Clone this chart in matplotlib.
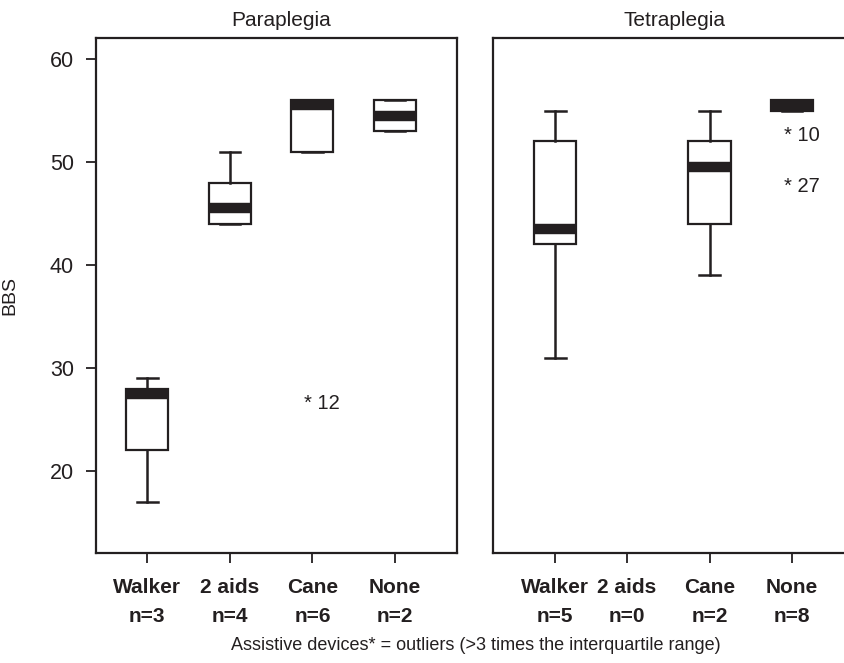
import matplotlib
matplotlib.use("Agg")
import matplotlib.pyplot as plt

# data (BBS scores)
devices = ["Walker", "2 aids", "Cane", "None"]

para_n = [3, 4, 6, 2]
para_med = [27.5, 45.5, 55.5, 54.5]
para_q1 = [22, 44, 51, 53]
para_q3 = [28, 48, 56, 56]
para_lo = [17, 44, 51, 53]
para_hi = [29, 51, 56, 56]
para_out_val = [27]
para_out_id = ["12"]
para_out_dev = ["Cane"]

tetra_n = [5, 0, 2, 8]
tetra_med = [43.5, None, 49.5, 55.5]
tetra_q1 = [42, None, 44, 55]
tetra_q3 = [52, None, 52, 56]
tetra_lo = [31, None, 39, 55]
tetra_hi = [55, None, 55, 56]
tetra_out_val = [53, 48]
tetra_out_id = ["10", "27"]
tetra_out_dev = ["None", "None"]

INK = "#231f20"
plt.rcParams["font.family"] = ["Liberation Sans", "DejaVu Sans"]

fig = plt.figure(figsize=(8.45, 6.63), dpi=100)
ax1 = fig.add_axes([96 / 845, 1 - 552.7 / 663, 361.3 / 845, 515 / 663])
ax2 = fig.add_axes([492.7 / 845, 1 - 552.7 / 663, 352.3 / 845, 515 / 663])


def draw_panel(ax, pos, n, med, q1, q3, lo, hi, out_val, out_id, out_dev, xlim):
    stats, bpos = [], []
    for i in range(len(devices)):
        if med[i] is None:
            continue
        stats.append(dict(med=med[i], q1=q1[i], q3=q3[i],
                          whislo=lo[i], whishi=hi[i], fliers=[]))
        bpos.append(pos[i])
    ax.bxp(stats, positions=bpos, widths=0.51, capwidths=0.25,
           showfliers=False, patch_artist=True,
           boxprops=dict(facecolor="white", edgecolor=INK, linewidth=1.6),
           whiskerprops=dict(color=INK, linewidth=1.8),
           capprops=dict(color=INK, linewidth=1.8),
           medianprops=dict(color=INK, linewidth=7.5, solid_capstyle="butt"))
    # outliers marked with an asterisk and case number
    for v, lab, d in zip(out_val, out_id, out_dev):
        x = pos[devices.index(d)]
        ax.annotate("* " + lab, (x, v), xytext=(-6, -3),
                    textcoords="offset points", ha="left", va="center",
                    fontsize=14.5, color=INK)
    ax.set_xticks(pos)
    ax.set_xticklabels([f"{d}\nn={k}" for d, k in zip(devices, n)],
                       fontweight="bold", fontsize=15, linespacing=1.66,
                       color=INK)
    ax.set_xlim(*xlim)
    ax.set_ylim(12.07, 62.07)
    ax.tick_params(axis="x", length=7.5, width=1.3, pad=10.5, color=INK)
    for s in ax.spines.values():
        s.set_linewidth(1.6)
        s.set_color(INK)


draw_panel(ax1, [1, 2, 3, 4], para_n, para_med, para_q1, para_q3, para_lo,
           para_hi, para_out_val, para_out_id, para_out_dev, (0.379, 4.755))
draw_panel(ax2, [1.13, 2, 3, 4], tetra_n, tetra_med, tetra_q1, tetra_q3,
           tetra_lo, tetra_hi, tetra_out_val, tetra_out_id, tetra_out_dev,
           (0.372, 4.642))

ax1.set_yticks([20, 30, 40, 50, 60])
ax1.tick_params(axis="y", length=7.5, width=1.3, labelsize=15.5, color=INK,
                labelcolor=INK, pad=8.5)
ax1.set_ylabel("BBS", fontsize=14, color=INK)
ax1.yaxis.set_label_coords(-0.216, 0.499)
ax2.set_yticks([])
ax2.spines["right"].set_visible(False)

fig.text(281 / 845, 1 - 21 / 663, "Paraplegia", ha="center", va="center",
         fontsize=15, color=INK)
fig.text(675 / 845, 1 - 21 / 663, "Tetraplegia", ha="center", va="center",
         fontsize=15, color=INK)
fig.text(476 / 845, 1 - 645 / 663,
         "Assistive devices* = outliers (>3 times the interquartile range)",
         ha="center", va="center", fontsize=13, color=INK)

fig.savefig("out.png", dpi=100)
